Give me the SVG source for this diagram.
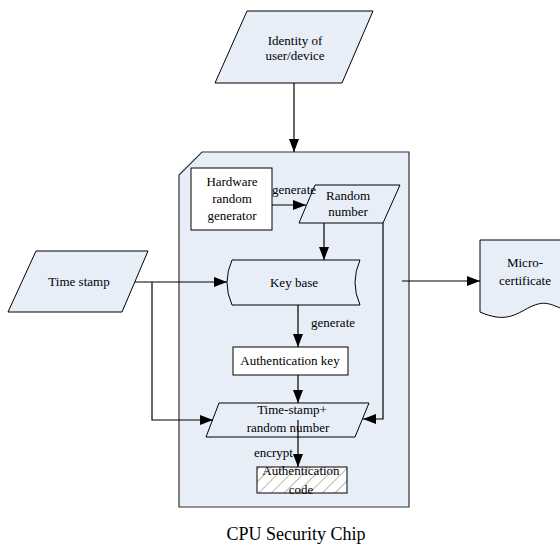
<svg xmlns="http://www.w3.org/2000/svg" width="560" height="549" viewBox="0 0 560 549">
<style>
.sh{fill:#e8eef8;stroke:#000;stroke-width:1}
.chip{fill:#e8eef8;stroke:#333;stroke-width:1.2}
.wb{fill:#fff;stroke:#000;stroke-width:1}
.ln{fill:none;stroke:#000;stroke-width:1.2}
text{font-family:"Liberation Serif","Times New Roman",serif;font-size:13px;fill:#000;text-anchor:middle}
.cap{font-size:18px}
.lb{text-anchor:start}
</style>
<defs>
<marker id="ah" viewBox="0 0 13 10" refX="13" refY="5" markerWidth="13" markerHeight="10" markerUnits="userSpaceOnUse" orient="auto">
<path d="M0,0 L13,5 L0,10 z" fill="#000"/>
</marker>
<pattern id="hatch" width="9" height="9" patternUnits="userSpaceOnUse" patternTransform="rotate(45)">
<rect width="9" height="9" fill="#fff"/>
<line x1="0" y1="0" x2="0" y2="9" stroke="#b8b8b8" stroke-width="2"/>
</pattern>
</defs>
<rect width="560" height="549" fill="#fff"/>
<g id="chip">
<polygon class="chip" points="202,152 409,152 409,507 179,507 179,175"/>
<text class="cap" x="296" y="540">CPU Security Chip</text>
</g>
<g id="identity">
<polygon class="sh" points="247,11 373,11 342,83 215,83"/>
<text x="295" y="45">Identity of</text>
<text x="295" y="60">user/device</text>
</g>
<g id="timestamp">
<polygon class="sh" points="36,251 148,251 122,312 8,312"/>
<text x="79" y="286">Time stamp</text>
</g>
<g id="hwgen">
<rect class="wb" x="191" y="168" width="81" height="62"/>
<text x="232" y="186">Hardware</text>
<text x="232" y="203">random</text>
<text x="232" y="220">generator</text>
</g>
<g id="random">
<polygon class="sh" points="315,185 400,185 383,223 299,223"/>
<text x="348" y="200">Random</text>
<text x="348" y="216">number</text>
</g>
<g id="keybase">
<path class="sh" d="M232,260 L360,260 Q350,282.5 360,305 L232,305 Q222,282.5 232,260 Z"/>
<text x="294" y="287">Key base</text>
</g>
<g id="authkey">
<rect class="wb" x="233" y="347" width="115" height="28"/>
<text x="290" y="365">Authentication key</text>
</g>
<g id="tsrn">
<polygon class="sh" points="219,403 369,403 355,437 206,437"/>
<text x="292" y="414">Time-stamp+</text>
<text x="288" y="432">random number</text>
</g>
<g id="authcode">
<rect x="257" y="467" width="90" height="26" fill="url(#hatch)" stroke="#000" stroke-width="1"/>
<text x="301" y="475">Authentication</text>
<text x="301" y="494">code</text>
</g>
<g id="micro">
<path class="sh" d="M480,240 L565,240 L565,310 C550,304 545,300 530,307 C515,315 505,323 480,312 Z"/>
<text x="525" y="267">Micro-</text>
<text x="525" y="285">certificate</text>
</g>
<g id="connectors">
<line class="ln" x1="294" y1="83" x2="294" y2="152" marker-end="url(#ah)"/>
<line class="ln" x1="272" y1="205" x2="306" y2="205" marker-end="url(#ah)"/>
<line class="ln" x1="324" y1="223" x2="324" y2="260" marker-end="url(#ah)"/>
<line class="ln" x1="135" y1="282" x2="227" y2="282" marker-end="url(#ah)"/>
<polyline class="ln" points="152,282 152,420 213,420" marker-end="url(#ah)"/>
<polyline class="ln" points="383,223 383,419 363,419" marker-end="url(#ah)"/>
<line class="ln" x1="298" y1="305" x2="298" y2="347" marker-end="url(#ah)"/>
<line class="ln" x1="298" y1="375" x2="298" y2="403" marker-end="url(#ah)"/>
<line class="ln" x1="298" y1="420" x2="298" y2="467" marker-end="url(#ah)"/>
<line class="ln" x1="402" y1="281" x2="480" y2="281" marker-end="url(#ah)"/>
<text class="lb" x="272" y="194">generate</text>
<text class="lb" x="311" y="327">generate</text>
<text class="lb" x="254" y="457">encrypt</text>
</g>
</svg>
